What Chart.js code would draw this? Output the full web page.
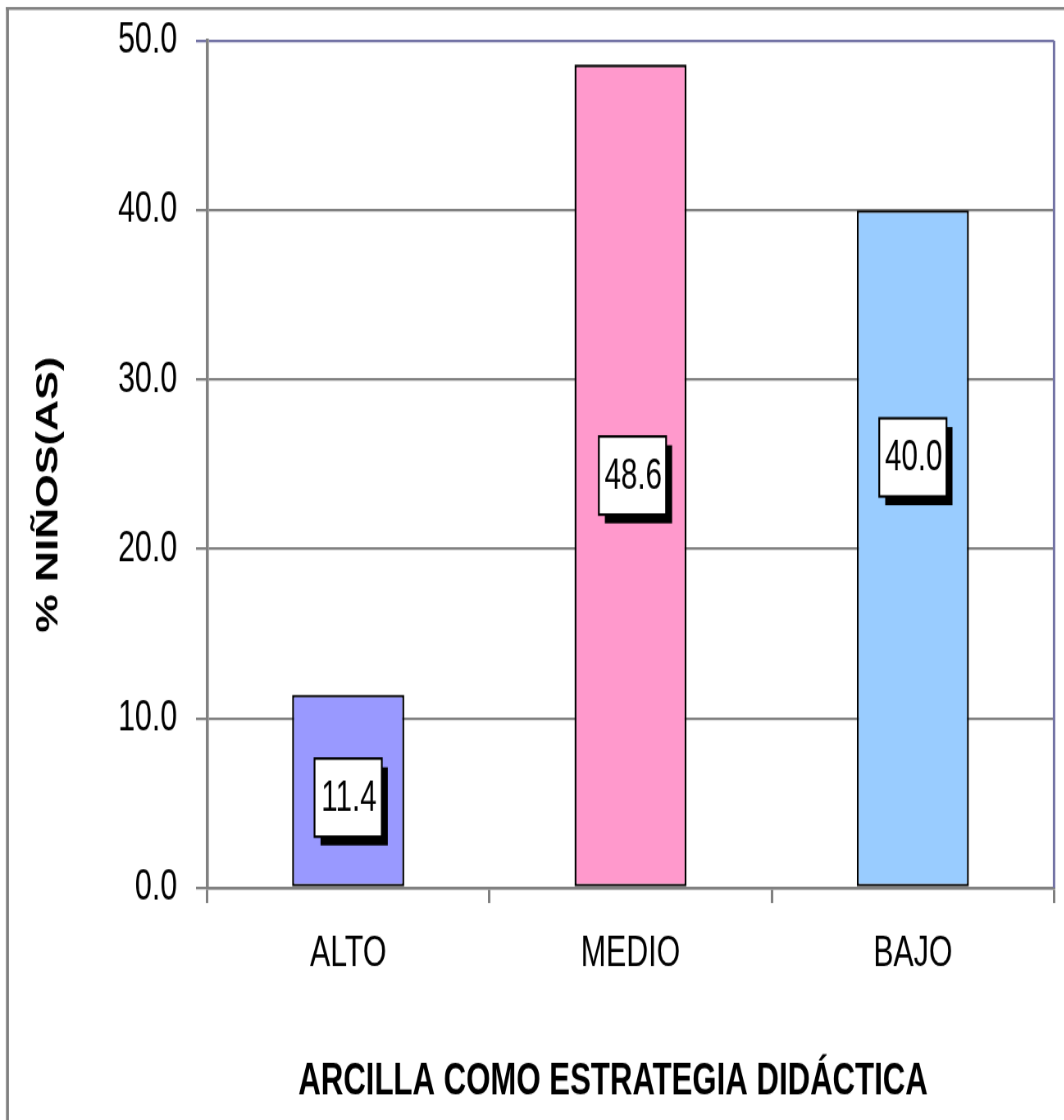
<!DOCTYPE html>
<html>
<head>
<meta charset="utf-8">
<script src="https://cdn.jsdelivr.net/npm/chart.js@4/dist/chart.umd.min.js"></script>
<style>
  html, body { margin: 0; padding: 0; background: #ffffff; width: 1064px; height: 1120px; overflow: hidden; }
  #frame { position: relative; width: 1064px; height: 1120px; overflow: hidden; }
  /* the chart is drawn on a 1298x960 canvas and shown squeezed/stretched to 1064x1120 */
  #stage {
    position: absolute;
    left: 0;
    top: 0;
    width: 1298px;
    height: 960px;
    transform: scale(0.82, 1.16667);
    transform-origin: 0 0;
  }
  #chart { display: block; }
</style>
</head>
<body>
<div id="frame"><div id="stage"><canvas id="chart" width="1298" height="960"></canvas></div></div>
<script>
// Data
const categories = ['ALTO', 'MEDIO', 'BAJO'];
const percentages = [11.4, 48.6, 40.0];
const yTicks = [0, 10, 20, 30, 40, 50];

const xTitle = 'ARCILLA COMO ESTRATEGIA DIDÁCTICA';
const yTitle = '% NIÑOS(AS)';

// Styling
const barColors = ['#9999ff', '#ff99cc', '#99ccff'];
const gridGrey = '#808080';
const frameBlue = '#7373a5';
const sans = "'Liberation Sans', Arimo, Arial, sans-serif";

// value-box nudges (px) relative to the middle of each bar
const boxNudgeX = [0, 2.4, 0];
const boxNudgeY = [6, 0, -78];

const decorPlugin = {
  id: 'decor',
  beforeDraw(chart) {
    const ctx = chart.ctx;
    ctx.save();
    ctx.fillStyle = '#ffffff';
    ctx.fillRect(0, 0, chart.width, chart.height);
    // outer frame (left and top edges)
    ctx.strokeStyle = gridGrey;
    ctx.lineWidth = 3.6;
    ctx.beginPath(); ctx.moveTo(9.1, 6); ctx.lineTo(9.1, chart.height); ctx.stroke();
    ctx.lineWidth = 2.6;
    ctx.beginPath(); ctx.moveTo(7, 7.3); ctx.lineTo(chart.width, 7.3); ctx.stroke();
    ctx.restore();
  },
  beforeDatasetsDraw(chart) {
    const ctx = chart.ctx;
    const a = chart.chartArea;
    ctx.save();
    ctx.strokeStyle = frameBlue;
    ctx.lineWidth = 3;
    ctx.beginPath(); ctx.moveTo(a.right, a.top); ctx.lineTo(a.right, a.bottom); ctx.stroke();
    ctx.restore();
  },
  afterDatasetsDraw(chart) {
    const ctx = chart.ctx;
    const meta = chart.getDatasetMeta(0);
    const values = chart.data.datasets[0].data;
    ctx.save();
    meta.data.forEach((bar, i) => {
      const p = bar.getProps(['x', 'y', 'base'], true);
      const cx = p.x + boxNudgeX[i];
      const cy = (p.y + p.base) / 2 + boxNudgeY[i];
      const w = 82, h = 67;
      ctx.fillStyle = '#000000';
      ctx.fillRect(cx - w / 2 + 7.3, cy - h / 2 + 7.5, w, h);
      ctx.fillStyle = '#ffffff';
      ctx.fillRect(cx - w / 2, cy - h / 2, w, h);
      ctx.strokeStyle = '#000000';
      ctx.lineWidth = 2.2;
      ctx.strokeRect(cx - w / 2, cy - h / 2, w, h);
      ctx.fillStyle = '#000000';
      ctx.font = '36px ' + sans;
      ctx.textAlign = 'center';
      ctx.textBaseline = 'middle';
      ctx.fillText(values[i].toFixed(1), cx + 1, cy + 1);
    });
    ctx.restore();
  },
  afterDraw(chart) {
    const ctx = chart.ctx;
    ctx.save();
    ctx.fillStyle = '#000000';
    ctx.textAlign = 'center';
    ctx.textBaseline = 'middle';
    // x axis title
    ctx.font = 'bold 38px ' + sans;
    ctx.fillText(xTitle, 747.6, 928);
    // y axis title
    ctx.translate(59.8, 424);
    ctx.rotate(-Math.PI / 2);
    ctx.font = 'bold 37px ' + sans;
    ctx.fillText(yTitle, 0, 0);
    ctx.restore();
  }
};

new Chart(document.getElementById('chart'), {
  type: 'bar',
  data: {
    labels: categories,
    datasets: [{
      data: percentages,
      backgroundColor: barColors,
      borderColor: '#000000',
      borderWidth: 2.4,
      borderSkipped: false,
      categoryPercentage: 1,
      barPercentage: 0.397
    }]
  },
  options: {
    responsive: false,
    animation: false,
    devicePixelRatio: 1,
    layout: { padding: { top: 35, right: 12.6, left: 0, bottom: 0 } },
    plugins: {
      legend: { display: false },
      tooltip: { enabled: false }
    },
    scales: {
      x: {
        afterFit(scale) {
          scale.height = 199;
          scale.paddingLeft = 0;
          scale.paddingRight = 0;
        },
        grid: {
          offset: true,
          drawOnChartArea: false,
          drawTicks: true,
          tickLength: 13,
          color: gridGrey,
          lineWidth: 3
        },
        border: { color: gridGrey, width: 2.6 },
        ticks: {
          color: '#000000',
          font: { family: sans, size: 37 },
          padding: 22,
          maxRotation: 0
        }
      },
      y: {
        min: 0,
        max: 50,
        afterFit(scale) {
          scale.width = 252.4;
          scale.paddingTop = 0;
          scale.paddingBottom = 0;
        },
        afterBuildTicks(scale) { scale.ticks = yTicks.map(v => ({ value: v })); },
        grid: {
          drawTicks: true,
          tickLength: 13.4,
          color: (c) => (c.tick && c.tick.value === 50 ? frameBlue : gridGrey),
          lineWidth: 2.3
        },
        border: { color: gridGrey, width: 3.6 },
        ticks: {
          color: '#000000',
          font: { family: sans, size: 37 },
          padding: 23,
          callback: (v) => Number(v).toFixed(1)
        }
      }
    }
  },
  plugins: [decorPlugin]
});
</script>
</body>
</html>
